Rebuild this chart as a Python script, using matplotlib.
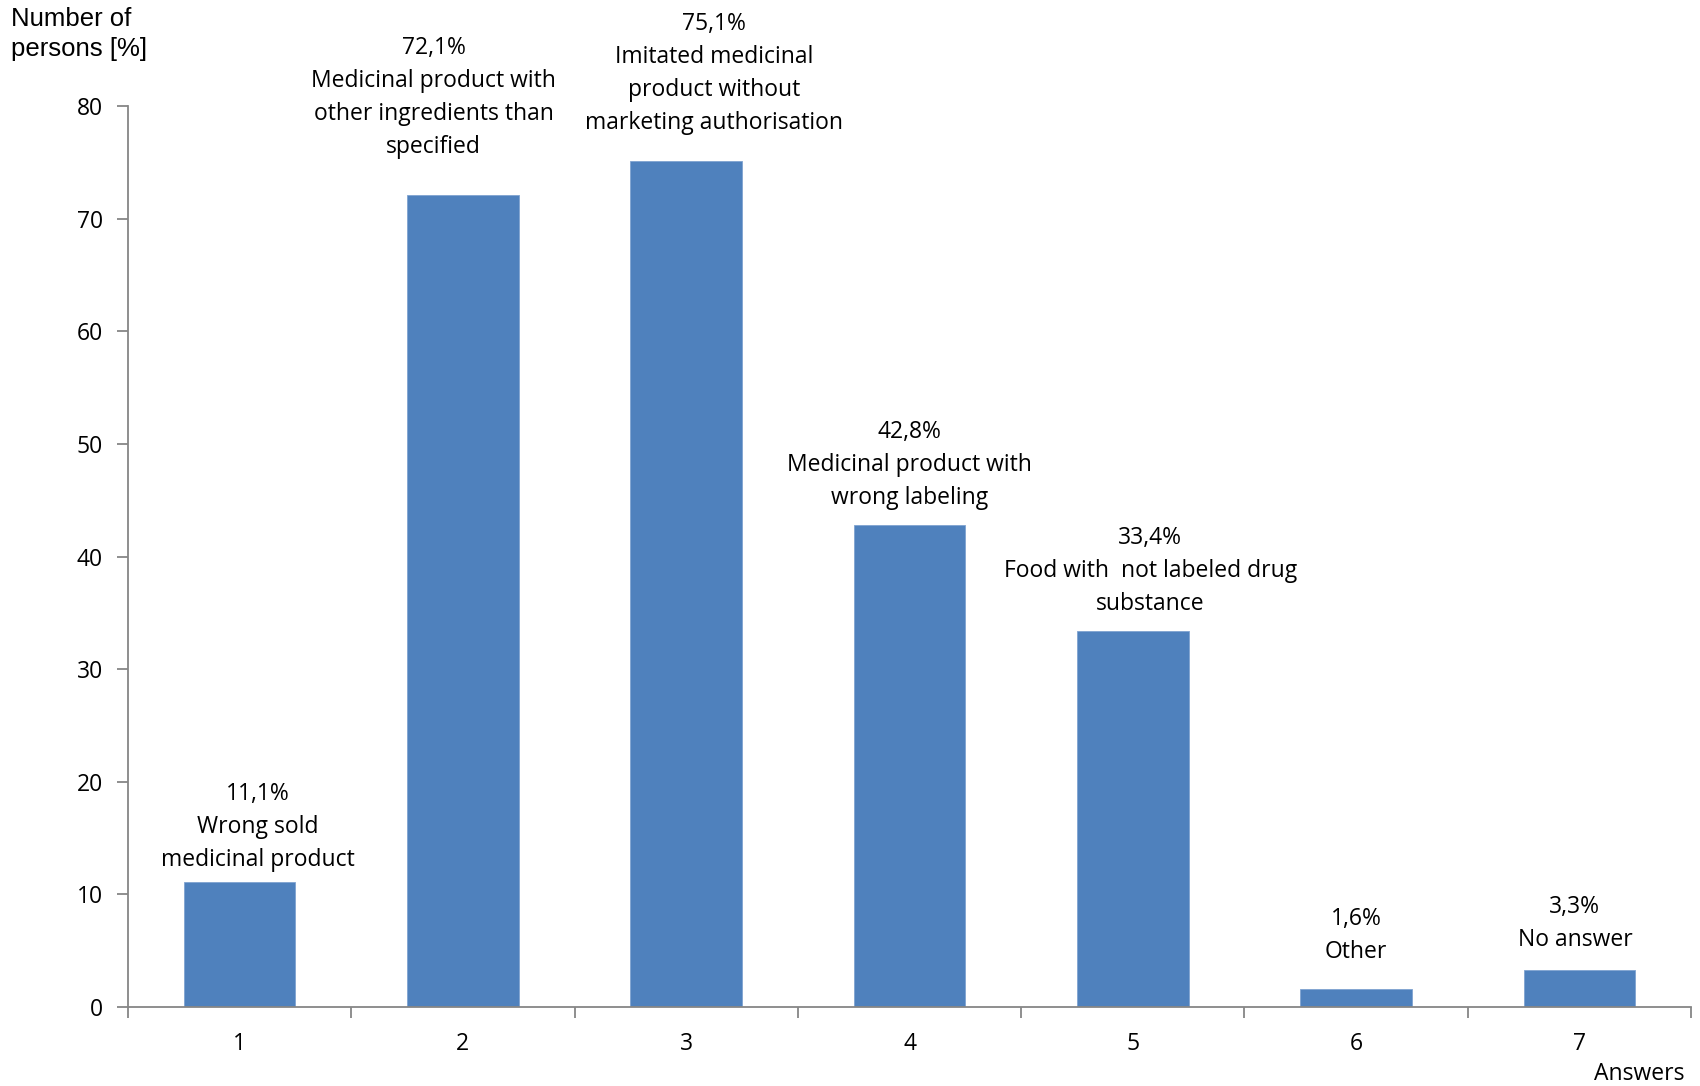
import matplotlib
matplotlib.use("Agg")
import matplotlib.pyplot as plt

categories = [1, 2, 3, 4, 5, 6, 7]
values = [11.1, 72.1, 75.1, 42.8, 33.4, 1.6, 3.3]
labels = [
    "11,1%\nWrong sold\nmedicinal product",
    "72,1%\nMedicinal product with\nother ingredients than\nspecified",
    "75,1%\nImitated medicinal\nproduct without\nmarketing authorisation",
    "42,8%\nMedicinal product with\nwrong labeling",
    "33,4%\nFood with  not labeled drug\nsubstance",
    "1,6%\nOther",
    "3,3%\nNo answer",
]
yticks = [0, 10, 20, 30, 40, 50, 60, 70, 80]

# label placement (manually moved data labels)
label_x = [1.083, 1.869, 3.126, 4.0, 5.078, 6.0, 6.98]
label_y = [15.98, 80.77, 82.89, 48.13, 38.70, 6.35, 7.41]

font = "Open Sans"
axis_color = "#868686"
bar_color = "#4F81BD"
fs = 16.5

fig = plt.figure(figsize=(17, 10.86), dpi=100)
ax = fig.add_axes([0.0753, 0.0727, 0.9194, 0.8297])

ax.bar(categories, values, width=0.5, color=bar_color, edgecolor="#7FA3D0", linewidth=0.6, zorder=2)

ax.set_xlim(0.5, 7.5)
ax.set_ylim(0, 80)
ax.set_yticks(yticks)
ax.set_yticklabels([str(t) for t in yticks], fontfamily=font, fontsize=fs)
ax.set_xticks(categories)
ax.set_xticklabels([str(c) for c in categories], fontfamily=font, fontsize=fs)
ax.set_xticks([c + 0.5 for c in [0] + categories], minor=True)

ax.tick_params(axis="x", which="major", length=0, pad=18)
ax.tick_params(axis="x", which="minor", length=8, color=axis_color, width=1.3, direction="out")
ax.tick_params(axis="y", which="major", length=8, color=axis_color, width=1.3, direction="out", pad=10)

for side in ["top", "right"]:
    ax.spines[side].set_visible(False)
for side in ["left", "bottom"]:
    ax.spines[side].set_color(axis_color)
    ax.spines[side].set_linewidth(1.3)

for lx, ly, txt in zip(label_x, label_y, labels):
    ax.text(lx, ly, txt, ha="center", va="center", fontfamily=font, fontsize=fs,
            linespacing=1.5, color="black", clip_on=False)

fig.text(11 / 1700, 1 - 34 / 1086, "Number of\npersons [%]", ha="left", va="center",
         fontfamily="Liberation Sans", fontsize=18.5, linespacing=1.3)
fig.text(1639 / 1700, 1 - 1074 / 1086, "Answers", ha="center", va="center",
         fontfamily=font, fontsize=fs)

fig.savefig("out.png", dpi=100)
